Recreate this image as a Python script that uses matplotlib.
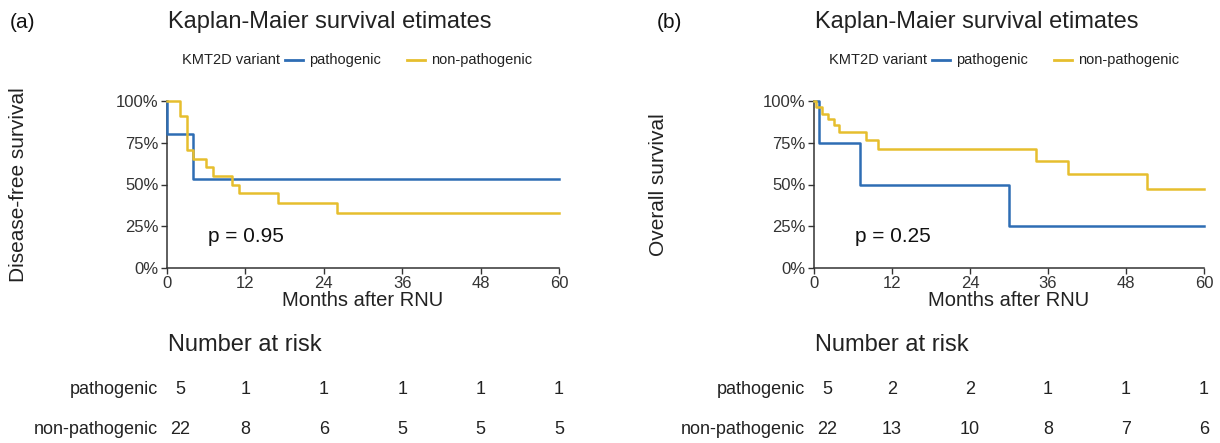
import matplotlib
matplotlib.use("Agg")
import matplotlib.pyplot as plt
from matplotlib.lines import Line2D
from matplotlib.ticker import PercentFormatter

plt.rcParams['font.family'] = ['Liberation Sans', 'DejaVu Sans']

BLUE = '#2E6DB4'
YELLOW = '#E6BE2E'

# panel (a) disease-free survival
dfs_path_t = [0, 0, 4, 60]
dfs_path_s = [1.0, 0.80, 0.533, 0.533]
dfs_non_t = [0, 2, 3, 4, 6, 7, 10, 11, 17, 26, 60]
dfs_non_s = [1.0, 0.908, 0.705, 0.655, 0.605, 0.553, 0.50, 0.447, 0.39, 0.327, 0.327]
dfs_p = "p = 0.95"
dfs_risk_path = [5, 1, 1, 1, 1, 1]
dfs_risk_non = [22, 8, 6, 5, 5, 5]

# panel (b) overall survival
os_path_t = [0, 0.8, 7, 30, 60]
os_path_s = [1.0, 0.75, 0.50, 0.25, 0.25]
os_non_t = [0, 0.3, 1.2, 2.2, 3.0, 3.9, 8.0, 9.9, 34.1, 39.0, 51.3, 60]
os_non_s = [1.0, 0.962, 0.925, 0.89, 0.855, 0.814, 0.766, 0.713, 0.64, 0.56, 0.475, 0.475]
os_p = "p = 0.25"
os_risk_path = [5, 2, 2, 1, 1, 1]
os_risk_non = [22, 13, 10, 8, 7, 6]

risk_times = [0, 12, 24, 36, 48, 60]
groups = ["pathogenic", "non-pathogenic"]

W, H = 1220, 443
fig = plt.figure(figsize=(W / 100, H / 100), dpi=100)


def panel(left_px, width_px, tag, ylab, ylab_dx, curves, ptext, risks):
    top_px, bot_px = 101, 268
    ax = fig.add_axes([left_px / W, 1 - bot_px / H, width_px / W, (bot_px - top_px) / H])
    for (t, s), c in zip(curves, [BLUE, YELLOW]):
        ax.step(t, s, where='post', color=c, lw=1.8, clip_on=False, zorder=3)
    ax.set_xlim(0, 60)
    ax.set_ylim(0, 1)
    ax.set_xticks(risk_times)
    ax.set_yticks([0, 0.25, 0.5, 0.75, 1.0])
    ax.yaxis.set_major_formatter(PercentFormatter(1.0, decimals=0))
    for sp in ['top', 'right']:
        ax.spines[sp].set_visible(False)
    for sp in ['left', 'bottom']:
        ax.spines[sp].set_linewidth(1.1)
        ax.spines[sp].set_color('#333333')
    ax.tick_params(labelsize=12, length=4, width=1, colors='#333333', labelcolor='#333333', pad=2)
    ax.set_xlabel("Months after RNU", fontsize=14.5, color='#222222', labelpad=0)
    ax.set_ylabel(ylab, fontsize=15, color='#222222')
    ax.yaxis.set_label_coords(-ylab_dx / width_px, 0.5)
    ax.text(0.105, 0.19, ptext, transform=ax.transAxes, fontsize=15, va='center', color='#111111')

    # header text
    fig.text((left_px - 157) / W, 1 - 22 / H, tag, fontsize=15, va='center', ha='left', color='#111111')
    fig.text((left_px + 1) / W, 1 - 22 / H, "Kaplan-Maier survival etimates", fontsize=17,
             va='center', ha='left', color='#222222')

    # legend row
    ly = 1 - 60 / H
    fig.text((left_px + 15) / W, ly, "KMT2D variant", fontsize=10.5, va='center', color='#222222')
    for x0, c, lab in [(118, BLUE, groups[0]), (240, YELLOW, groups[1])]:
        fig.add_artist(Line2D([(left_px + x0) / W, (left_px + x0 + 18) / W], [ly, ly],
                              color=c, lw=2, transform=fig.transFigure))
        fig.text((left_px + x0 + 24) / W, ly, lab, fontsize=10.5, va='center', color='#222222')

    # number at risk table
    fig.text((left_px + 1) / W, 1 - 345 / H, "Number at risk", fontsize=17, va='center', color='#222222')
    xscale = width_px / 60.0
    for row_y, lab, vals in [(390, groups[0], risks[0]), (430, groups[1], risks[1])]:
        fig.text((left_px - 9) / W, 1 - row_y / H, lab, fontsize=13, ha='right', va='center', color='#222222')
        for t, v in zip(risk_times, vals):
            tt = t + 2 if t == 0 else t
            fig.text((left_px + tt * xscale) / W, 1 - row_y / H, str(v), fontsize=13,
                     ha='center', va='center', color='#222222')
    return ax


panel(167, 392, "(a)", "Disease-free survival", 139,
      [(dfs_path_t, dfs_path_s), (dfs_non_t, dfs_non_s)], dfs_p,
      [dfs_risk_path, dfs_risk_non])
panel(814, 390, "(b)", "Overall survival", 146,
      [(os_path_t, os_path_s), (os_non_t, os_non_s)], os_p,
      [os_risk_path, os_risk_non])

fig.savefig("out.png", dpi=100)
